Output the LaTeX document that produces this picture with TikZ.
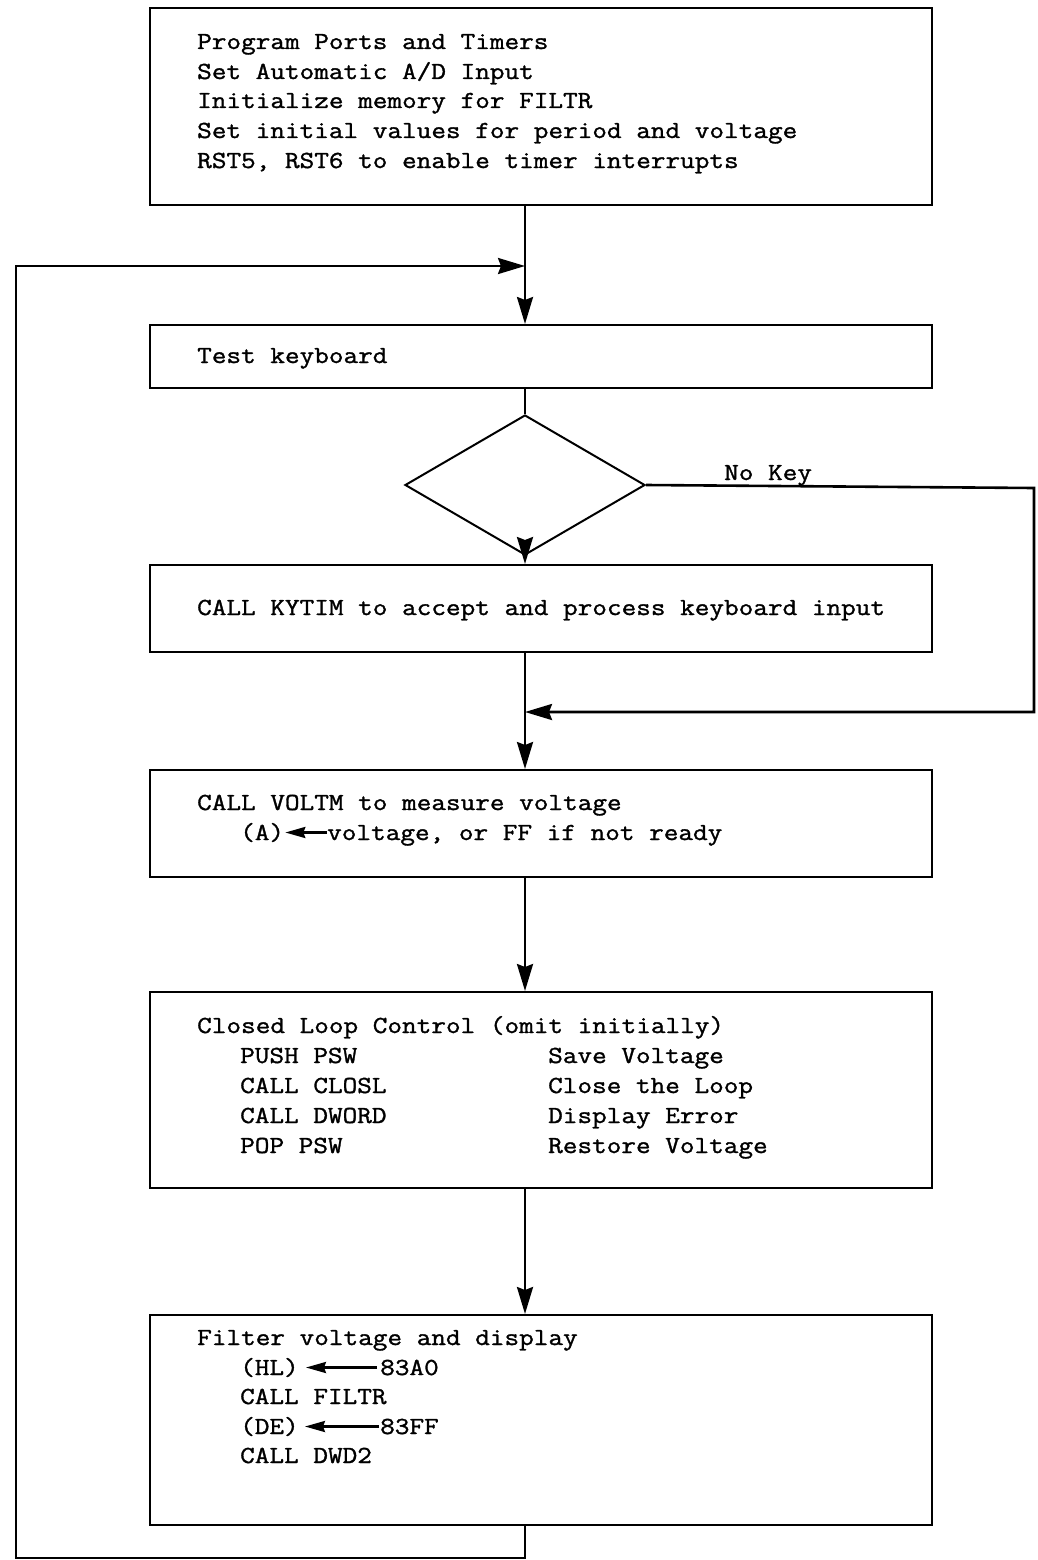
\documentclass[tikz,border=0pt]{standalone}
\usepackage{fontspec}
\usetikzlibrary{shapes.geometric,arrows.meta}
\newfontfamily\tw{Latin Modern Mono}[FakeStretch=1.16,FakeBold=1.3]
\begin{document}
\begin{tikzpicture}[x=1pt,y=-1pt,
  box/.style={draw,line width=2pt,minimum width=782pt,inner sep=0pt},
  plain/.style={line width=2.6pt},
  flow/.style={line width=2.6pt,-{Stealth[length=27pt,width=16pt,inset=3pt]}},
  tip/.style={line width=2.6pt,-{Stealth[length=20pt,width=11pt,inset=2pt]}},
  txt/.style={anchor=base west,inner sep=0pt,font=\tw\fontsize{24.5}{29.7}\selectfont}]
\useasboundingbox (0,0) rectangle (1037,1560);

% flow column
\coordinate (c) at (525,0);

% boxes
\node[box,minimum height=197pt] (b1) at (541,106.5) {};
\node[box,minimum height=63pt]  (b2) at (541,356.5) {};
\node[draw,diamond,line width=2pt,inner sep=0pt,minimum width=240pt,minimum height=140pt] (d) at (525,485) {};
\node[box,minimum height=87pt]  (b3) at (541,608.5) {};
\node[box,minimum height=107pt] (b4) at (541,823.5) {};
\node[box,minimum height=196pt] (b5) at (541,1090) {};
\node[box,minimum height=210pt] (b6) at (541,1420) {};

% box texts
\node[txt] (t11) at (197,49)  {Program Ports and Timers};
\node[txt] (t12) at (197,79)  {Set Automatic A/D Input};
\node[txt] (t13) at (197,108) {Initialize memory for FILTR};
\node[txt] (t14) at (197,138) {Set initial values for period and voltage};
\node[txt] (t15) at (197,168) {RST5, RST6 to enable timer interrupts};

\node[txt] (t21) at (197,363) {Test keyboard};

\node[txt] (nk) at (724,480) {No Key};

\node[txt] (t31) at (197,615) {CALL KYTIM to accept and process keyboard input};

\node[txt] (t41) at (197,810) {CALL VOLTM to measure voltage};
\node[txt] (t42) at (240,840) {(A)};
\node[txt] (t43) at (327,840) {voltage, or FF if not ready};

\node[txt] (t51) at (197,1033) {Closed Loop Control (omit initially)};
\node[txt] (t52) at (240,1063) {PUSH PSW};
\node[txt] (t53) at (240,1093) {CALL CLOSL};
\node[txt] (t54) at (240,1123) {CALL DWORD};
\node[txt] (t55) at (240,1153) {POP PSW};
\node[txt] (t56) at (548,1063) {Save Voltage};
\node[txt] (t57) at (548,1093) {Close the Loop};
\node[txt] (t58) at (548,1123) {Display Error};
\node[txt] (t59) at (548,1153) {Restore Voltage};

\node[txt] (t61) at (197,1345) {Filter voltage and display};
\node[txt] (t62) at (240,1375) {(HL)};
\node[txt] (t63) at (380,1375) {83A0};
\node[txt] (t64) at (240,1404) {CALL FILTR};
\node[txt] (t65) at (240,1434) {(DE)};
\node[txt] (t66) at (380,1434) {83FF};
\node[txt] (t67) at (240,1463) {CALL DWD2};

% assignment arrows inside the boxes, at mid x-height
\draw[tip] ([yshift=7.5pt]t43.base west) -- ([xshift=1pt,yshift=7.5pt]t42.base east);
\draw[tip,shorten <=3pt,shorten >=7pt] ([yshift=7.5pt]t63.base west) -- ([yshift=7.5pt]t62.base east);
\draw[tip,shorten <=1pt,shorten >=6pt] ([yshift=7.5pt]t66.base west) -- ([yshift=7.5pt]t65.base east);

% main flow
\draw[flow] (b1.south -| c) -- (b2.north -| c);
\draw[plain] (b2.south -| c) -- (d.north);
\draw[flow] (d.south) -- (b3.north -| c);
\draw[flow] (b3.south -| c) -- (b4.north -| c);
\draw[flow] (b4.south -| c) -- (b5.north -| c);
\draw[flow] (b5.south -| c) -- (b6.north -| c);

% "No Key" bypass
\coordinate (k1) at (1034,488);
\coordinate (k2) at (1034,712);
\coordinate (k3) at (525,712);
\draw[flow] (d.east) -- (k1) -- (k2) -- (k3);

% return loop
\coordinate (r1) at (525,1558);
\coordinate (r2) at (16,1558);
\coordinate (r3) at (16,266);
\coordinate (r4) at (525,266);
\draw[flow,line join=miter] (b6.south -| c) -- (r1) -- (r2) -- (r3) -- (r4);
\end{tikzpicture}
\end{document}
